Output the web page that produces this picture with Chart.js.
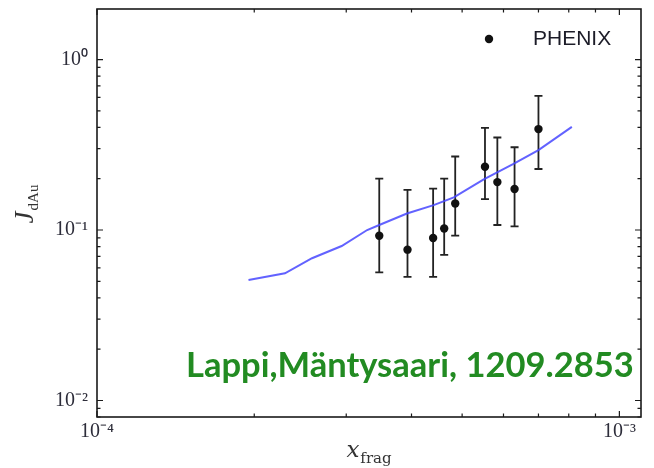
<!DOCTYPE html>
<html><head><meta charset="utf-8">
<script src="https://cdn.jsdelivr.net/npm/chart.js@4/dist/chart.umd.min.js"></script>
<style>html,body{margin:0;padding:0;background:#fff}#wrap{width:654px;height:468px}</style>
</head><body><div id="wrap"><canvas id="c" width="654" height="468"></canvas></div>
<script>
// ---- data ----
const phenixLabel = 'PHENIX';
const xData  = [3.47e-4, 3.93e-4, 4.40e-4, 4.62e-4, 4.85e-4, 5.53e-4, 5.84e-4, 6.30e-4, 7.00e-4];
const yData  = [0.0926, 0.0767, 0.0898, 0.102, 0.143, 0.235, 0.191, 0.174, 0.391];
const yHigh  = [0.200, 0.172, 0.175, 0.200, 0.270, 0.397, 0.349, 0.306, 0.612];
const yLow   = [0.0565, 0.0531, 0.0531, 0.0714, 0.0926, 0.152, 0.107, 0.105, 0.228];

const theoryLabel = 'Theory';
const xTheory = [1.95e-4, 2.29e-4, 2.58e-4, 2.94e-4, 3.29e-4, 3.47e-4, 3.92e-4, 4.41e-4, 4.82e-4, 5.50e-4, 6.27e-4, 7.00e-4, 8.11e-4];
const yTheory = [0.0509, 0.0557, 0.0683, 0.0806, 0.100, 0.107, 0.125, 0.140, 0.1555, 0.198, 0.244, 0.294, 0.403];

const xTickValues = [1e-4, 1e-3];
const xTickLabels = ['10\u207B\u2074', '10\u207B\u00B3'];
const yTickValues = [0.01, 0.1, 1];
const yTickLabels = ['10\u207B\u00B2', '10\u207B\u00B9', '10\u2070'];

const xTitleMain = 'x', xTitleSub = 'frag';
const yTitleMain = 'J', yTitleSub = 'dAu';
const creditText = 'Lappi,M\u00E4ntysaari, 1209.2853';

// ---- plugin: frame, minor ticks, error bars, legend, titles ----
const deco = {
  id: 'deco',
  beforeDatasetsDraw(chart) {
    const ctx = chart.ctx, xs = chart.scales.x, ys = chart.scales.y;
    ctx.save();
    ctx.strokeStyle = '#222';
    ctx.lineWidth = 1.8;
    for (let i = 0; i < xData.length; i++) {
      const px = xs.getPixelForValue(xData[i]);
      const p1 = ys.getPixelForValue(yLow[i]);
      const p2 = ys.getPixelForValue(yHigh[i]);
      ctx.beginPath();
      ctx.moveTo(px, p1); ctx.lineTo(px, p2);
      ctx.moveTo(px - 4, p1); ctx.lineTo(px + 4, p1);
      ctx.moveTo(px - 4, p2); ctx.lineTo(px + 4, p2);
      ctx.stroke();
    }
    ctx.restore();
  },
  afterDraw(chart) {
    const ctx = chart.ctx, a = chart.chartArea, xs = chart.scales.x, ys = chart.scales.y;
    ctx.save();
    // frame
    ctx.strokeStyle = '#1a1a1a';
    ctx.lineWidth = 1.6;
    ctx.strokeRect(a.left, a.top, a.right - a.left, a.bottom - a.top);
    // ticks
    ctx.lineWidth = 1.2;
    function each(scale, fn) {
      const lo = Math.floor(Math.log10(scale.min)), hi = Math.ceil(Math.log10(scale.max));
      for (let k = lo; k <= hi; k++) for (let m = 1; m <= 9; m++) {
        const v = m * Math.pow(10, k);
        if (v < scale.min * 0.9999 || v > scale.max * 1.0001) continue;
        fn(scale.getPixelForValue(v), m === 1 ? 6 : 3.5);
      }
    }
    ctx.beginPath();
    each(ys, (p, L) => { ctx.moveTo(a.left, p); ctx.lineTo(a.left + L, p); ctx.moveTo(a.right, p); ctx.lineTo(a.right - L, p); });
    each(xs, (p, L) => { ctx.moveTo(p, a.bottom); ctx.lineTo(p, a.bottom - L); ctx.moveTo(p, a.top); ctx.lineTo(p, a.top + L); });
    ctx.stroke();

    // legend
    ctx.fillStyle = '#111';
    ctx.beginPath(); ctx.arc(489, 39, 4.2, 0, Math.PI * 2); ctx.fill();
    ctx.fillStyle = '#1c1c28';
    ctx.font = '21px "Liberation Sans", Arial, sans-serif';
    ctx.textBaseline = 'middle'; ctx.textAlign = 'left';
    ctx.fillText(chart.data.datasets[0].label, 533, 39);

    // x title
    ctx.fillStyle = '#333';
    ctx.textBaseline = 'alphabetic';
    ctx.font = 'italic 23px "DejaVu Serif", serif';
    const xw = ctx.measureText(xTitleMain).width;
    ctx.font = '15px "DejaVu Serif", serif';
    const sw = ctx.measureText(xTitleSub).width;
    const x0 = 369 - (xw + 1 + sw) / 2;
    ctx.font = 'italic 23px "DejaVu Serif", serif';
    ctx.fillText(xTitleMain, x0, 457);
    ctx.font = '15px "DejaVu Serif", serif';
    ctx.fillText(xTitleSub, x0 + xw + 1, 463);

    // y title
    ctx.save();
    ctx.font = 'italic 27px "Liberation Serif", serif';
    const jw = ctx.measureText(yTitleMain).width;
    ctx.font = '15px "Liberation Serif", serif';
    const dw = ctx.measureText(yTitleSub).width;
    const tot = jw + 1 + dw;
    ctx.translate(33, 204 + tot / 2);
    ctx.rotate(-Math.PI / 2);
    ctx.font = 'italic 27px "Liberation Serif", serif';
    ctx.fillText(yTitleMain, 0, 0);
    ctx.font = '15px "Liberation Serif", serif';
    ctx.fillText(yTitleSub, jw + 1, 5);
    ctx.restore();

    // credit text
    ctx.fillStyle = '#228B22';
    ctx.font = 'bold 30px Lato, "Open Sans", sans-serif';
    const cw = ctx.measureText(creditText).width;
    const fs = 30 * 448 / cw;
    ctx.font = 'bold ' + fs.toFixed(2) + 'px Lato, "Open Sans", sans-serif';
    ctx.textAlign = 'left';
    ctx.fillText(creditText, 186, 377);
    ctx.restore();
  }
};

new Chart(document.getElementById('c'), {
  type: 'scatter',
  data: {
    datasets: [
      {
        label: phenixLabel,
        data: xData.map((x, i) => ({ x: x, y: yData[i] })),
        pointRadius: 4.2, pointHoverRadius: 4.2,
        backgroundColor: '#111', borderWidth: 0, order: 0
      },
      {
        label: theoryLabel,
        data: xTheory.map((x, i) => ({ x: x, y: yTheory[i] })),
        showLine: true, pointRadius: 0, borderWidth: 2,
        borderColor: 'rgba(70,70,255,0.85)', order: 1
      }
    ]
  },
  options: {
    responsive: false, animation: false, devicePixelRatio: 1,
    layout: { padding: { top: 9, right: 13, left: 0, bottom: 0 } },
    plugins: { legend: { display: false }, tooltip: { enabled: false } },
    scales: {
      x: {
        type: 'logarithmic', min: 1e-4, max: 1.10e-3,
        grid: { display: false, drawTicks: false }, border: { display: false },
        afterBuildTicks: s => { s.ticks = xTickValues.map(v => ({ value: v })); },
        afterFit: s => { s.height = 51; s.paddingLeft = 0; s.paddingRight = 0; },
        ticks: {
          autoSkip: false, maxRotation: 0, padding: 3, color: '#2d2d3a',
          font: { family: '"Liberation Serif", serif', size: 20 },
          callback: (v, i) => xTickLabels[i]
        }
      },
      y: {
        type: 'logarithmic', min: 0.0080, max: 1.98,
        grid: { display: false, drawTicks: false }, border: { display: false },
        afterBuildTicks: s => { s.ticks = yTickValues.map(v => ({ value: v })); },
        afterFit: s => { s.width = 97; s.paddingTop = 0; s.paddingBottom = 0; },
        ticks: {
          autoSkip: false, padding: 9, color: '#2d2d3a',
          font: { family: '"Liberation Serif", serif', size: 20 },
          callback: (v, i) => yTickLabels[i]
        }
      }
    }
  },
  plugins: [deco]
});
</script>
</body></html>
